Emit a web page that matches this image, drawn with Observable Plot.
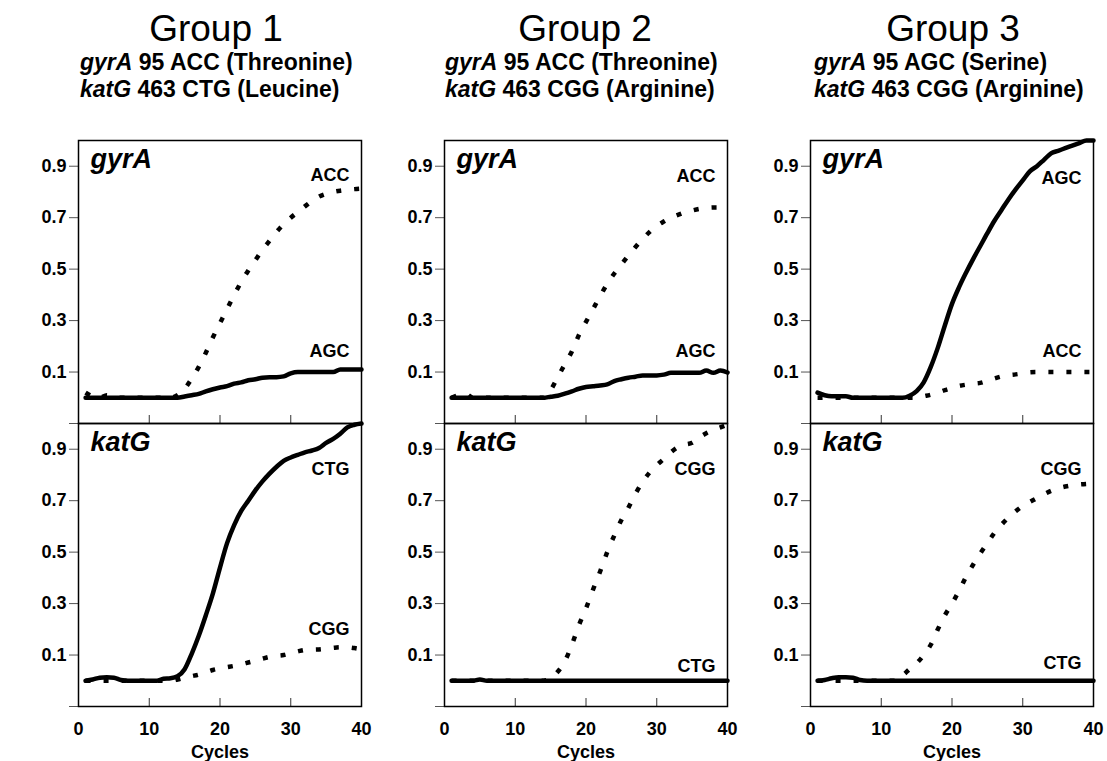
<!DOCTYPE html>
<html>
<head>
<meta charset="utf-8">
<script src="https://cdn.jsdelivr.net/npm/d3@7"></script>
<script src="https://cdn.jsdelivr.net/npm/@observablehq/plot@0.6"></script>
<style>
  html, body { margin: 0; padding: 0; background: white; }
  #wrap { position: relative; width: 1107px; height: 761px; overflow: hidden; font-family: "Liberation Sans", Arial, Helvetica, sans-serif; color: black; }
  .title { position: absolute; top: 10px; width: 300px; text-align: center; font-size: 37px; line-height: 37px; font-weight: normal; }
  .sub { position: absolute; font-size: 23px; line-height: 23px; font-weight: bold; white-space: nowrap; }
  .sub i { font-style: italic; }
  #ylab { position: absolute; left: 17px; top: 428px; transform: translate(-50%, -50%) rotate(-90deg); font-size: 19px; font-weight: bold; white-space: nowrap; }
  #chart { position: absolute; left: 0; top: 110px; }
</style>
</head>
<body>
<div id="wrap">
  <div id="titles"></div>
  <div id="ylab">Fluorescence</div>
  <div id="chart"></div>
</div>
<script>
// ---- Data ----
const groups = ["Group 1", "Group 2", "Group 3"];
const genes = ["gyrA", "katG"];
const subtitleGyrA = ["95 ACC (Threonine)", "95 ACC (Threonine)", "95 AGC (Serine)"];
const subtitleKatG = ["463 CTG (Leucine)", "463 CGG (Arginine)", "463 CGG (Arginine)"];
const cycles = [1,2,3,4,5,6,7,8,9,10,11,12,13,14,15,16,17,18,19,20,21,22,23,24,25,26,27,28,29,30,31,32,33,34,35,36,37,38,39,40];
const yTicks = [-0.1, 0.1, 0.3, 0.5, 0.7, 0.9];
const xTicks = [0, 10, 20, 30, 40];

// Group 1
const g1GyrA_ACC = [0.02,0.005,0,0.01,0,0,0,0,0,0,0,0,0,0.01,0.035,0.074,0.12,0.175,0.235,0.29,0.345,0.40,0.45,0.495,0.535,0.575,0.61,0.645,0.675,0.70,0.722,0.744,0.765,0.782,0.793,0.80,0.805,0.808,0.811,0.813];
const g1GyrA_AGC = [0,0,0,0,0,0,0,0,0,0,0,0,0,0,0.005,0.01,0.015,0.025,0.033,0.04,0.045,0.055,0.06,0.068,0.072,0.078,0.08,0.08,0.083,0.095,0.1,0.1,0.1,0.1,0.1,0.1,0.11,0.11,0.11,0.11];
const g1KatG_CTG = [0,0.005,0.012,0.014,0.012,0.003,0,0,0,0,0,0.008,0.01,0.018,0.045,0.105,0.175,0.255,0.34,0.44,0.535,0.605,0.66,0.70,0.74,0.775,0.805,0.832,0.855,0.868,0.878,0.888,0.895,0.905,0.925,0.94,0.96,0.985,0.995,1.0];
const g1KatG_CGG = [0,0,0,0,0,0,0,0,0,0,0,0,0,0.005,0.012,0.018,0.024,0.033,0.042,0.048,0.053,0.058,0.064,0.071,0.078,0.086,0.093,0.097,0.1,0.107,0.114,0.12,0.121,0.122,0.125,0.128,0.13,0.13,0.127,0.122];
// Group 2
const g2GyrA_ACC = [0,0.01,0.015,0,0.005,0,0,0,0,0,0,0,0,0,0.03,0.08,0.13,0.18,0.244,0.295,0.345,0.395,0.443,0.483,0.518,0.553,0.586,0.617,0.645,0.668,0.685,0.70,0.711,0.721,0.728,0.734,0.738,0.74,0.74,0.742];
const g2GyrA_AGC = [0,0,0,0,0,0,0,0,0,0,0,0,0,0,0.004,0.008,0.016,0.025,0.035,0.042,0.045,0.048,0.052,0.065,0.072,0.078,0.082,0.087,0.087,0.087,0.09,0.097,0.097,0.097,0.097,0.097,0.106,0.097,0.106,0.098];
const g2KatG_CGG = [0,0,0,0,0,0,0,0,0,0,0,0,0,0,0.01,0.035,0.075,0.14,0.216,0.281,0.355,0.425,0.5,0.565,0.625,0.673,0.727,0.773,0.81,0.838,0.862,0.888,0.908,0.918,0.925,0.945,0.962,0.975,0.985,0.995];
const g2KatG_CTG = [0,0,0,0,0.005,0,0,0,0,0,0,0,0,0,0,0,0,0,0,0,0,0,0,0,0,0,0,0,0,0,0,0,0,0,0,0,0,0,0,0];
// Group 3
const g3GyrA_AGC = [0.02,0.01,0.006,0.006,0.006,0,0,0,0,0,0,0,0,0.008,0.026,0.06,0.12,0.195,0.282,0.365,0.43,0.487,0.54,0.59,0.64,0.688,0.73,0.772,0.81,0.845,0.88,0.90,0.925,0.95,0.96,0.97,0.98,0.99,1.0,1.0];
const g3GyrA_ACC = [0,0,0,0,0,0,0,0,0,0,0,0,0,0,0,0.006,0.012,0.02,0.03,0.038,0.046,0.051,0.055,0.058,0.066,0.075,0.083,0.088,0.091,0.095,0.099,0.1,0.1,0.1,0.1,0.1,0.1,0.1,0.1,0.1];
const g3KatG_CGG = [0,0,0,0,0,0,0,0,0,0,0,0,0.02,0.045,0.068,0.1,0.14,0.2,0.255,0.3,0.35,0.405,0.452,0.495,0.535,0.575,0.607,0.635,0.659,0.68,0.695,0.71,0.725,0.738,0.748,0.755,0.76,0.763,0.765,0.766];
const g3KatG_CTG = [0,0.003,0.01,0.014,0.014,0.012,0.003,0,0,0,0,0,0,0,0,0,0,0,0,0,0,0,0,0,0,0,0,0,0,0,0,0,0,0,0,0,0,0,0,0];

// Curve labels
const labelGroups = ["Group 1","Group 1","Group 1","Group 1","Group 2","Group 2","Group 2","Group 2","Group 3","Group 3","Group 3","Group 3"];
const labelGenes  = ["gyrA","gyrA","katG","katG","gyrA","gyrA","katG","katG","gyrA","gyrA","katG","katG"];
const labelTexts  = ["ACC","AGC","CTG","CGG","ACC","AGC","CGG","CTG","AGC","ACC","CGG","CTG"];
const labelValues = [0.865,0.18,0.823,0.20,0.86,0.18,0.823,0.058,0.852,0.18,0.823,0.07];

// ---- Build tables ----
const series = [
  {group:"Group 1", gene:"gyrA", primer:"ACC", style:"dot",   values:g1GyrA_ACC},
  {group:"Group 1", gene:"gyrA", primer:"AGC", style:"solid", values:g1GyrA_AGC},
  {group:"Group 1", gene:"katG", primer:"CTG", style:"solid", values:g1KatG_CTG},
  {group:"Group 1", gene:"katG", primer:"CGG", style:"dot",   values:g1KatG_CGG},
  {group:"Group 2", gene:"gyrA", primer:"ACC", style:"dot",   values:g2GyrA_ACC},
  {group:"Group 2", gene:"gyrA", primer:"AGC", style:"solid", values:g2GyrA_AGC},
  {group:"Group 2", gene:"katG", primer:"CGG", style:"dot",   values:g2KatG_CGG},
  {group:"Group 2", gene:"katG", primer:"CTG", style:"solid", values:g2KatG_CTG},
  {group:"Group 3", gene:"gyrA", primer:"AGC", style:"solid", values:g3GyrA_AGC},
  {group:"Group 3", gene:"gyrA", primer:"ACC", style:"dot",   values:g3GyrA_ACC},
  {group:"Group 3", gene:"katG", primer:"CGG", style:"dot",   values:g3KatG_CGG},
  {group:"Group 3", gene:"katG", primer:"CTG", style:"solid", values:g3KatG_CTG}
];
const rows = series.flatMap(s => s.values.map((v, i) => ({
  group: s.group, gene: s.gene, primer: s.primer, style: s.style,
  key: s.group + "|" + s.gene + "|" + s.primer, cycle: cycles[i], value: v
})));
const labels = labelTexts.map((t, i) => ({group: labelGroups[i], gene: labelGenes[i], text: t, value: labelValues[i]}));
const panels = groups.flatMap(g => genes.map(k => ({group: g, gene: k})));
const bottomPanels = groups.map(g => ({group: g, gene: "katG"}));

// ---- Header (HTML) ----
const panelLeft = [77, 442, 811];
const panelCenter = [216, 585, 953];
const titles = document.getElementById("titles");
groups.forEach((g, i) => {
  const t = document.createElement("div");
  t.className = "title"; t.textContent = g;
  t.style.left = (panelCenter[i] - 150) + "px";
  titles.appendChild(t);
  const s1 = document.createElement("div");
  s1.className = "sub"; s1.style.left = (panelLeft[i] + 3) + "px"; s1.style.top = "51px";
  s1.innerHTML = "<i>gyrA</i> " + subtitleGyrA[i];
  titles.appendChild(s1);
  const s2 = document.createElement("div");
  s2.className = "sub"; s2.style.left = (panelLeft[i] + 3) + "px"; s2.style.top = "78px";
  s2.innerHTML = "<i>katG</i> " + subtitleKatG[i];
  titles.appendChild(s2);
});

// ---- Chart ----
const chart = Plot.plot({
  width: 1107,
  height: 651,
  marginTop: 30,
  marginBottom: 55,
  marginLeft: 77,
  marginRight: 14,
  style: {fontFamily: "'Liberation Sans', Arial, Helvetica, sans-serif", background: "white", color: "black", overflow: "visible"},
  x: {domain: [0, 40]},
  y: {domain: [-0.1, 1.0]},
  fx: {domain: groups, paddingInner: 0.2278, paddingOuter: 0, axis: null},
  fy: {domain: genes, paddingInner: 0, paddingOuter: 0, axis: null},
  marks: [
    Plot.axisY({ticks: yTicks, tickFormat: d => d < 0 ? "" : d3.format(".1f")(d), tickSize: 9, tickPadding: 3,
      facetAnchor: null, label: null, fontSize: 18, fontWeight: "bold", stroke: "#555"}),
    Plot.axisX({ticks: xTicks, tickSize: 0, tickPadding: 16, label: null, fontSize: 18, fontWeight: "bold"}),
    Plot.axisX({ticks: [10, 20, 30], tickSize: 8, dy: -8, text: null, label: null, facetAnchor: null, stroke: "#333"}),
    Plot.text(bottomPanels, {fx: "group", fy: "gene", text: () => "Cycles", frameAnchor: "bottom", dy: 51, fontSize: 18, fontWeight: "bold"}),
    Plot.line(rows, {filter: d => d.style === "solid", x: "cycle", y: "value", z: "key", fx: "group", fy: "gene",
      stroke: "black", strokeWidth: 4.5, curve: "monotone-x"}),
    Plot.line(rows, {filter: d => d.style === "dot", x: "cycle", y: "value", z: "key", fx: "group", fy: "gene",
      stroke: "black", strokeWidth: 4.5, strokeDasharray: "5,13", strokeLinecap: "butt", curve: "monotone-x"}),
    Plot.text(labels, {fx: "group", fy: "gene", x: () => 40, y: "value", text: "text", textAnchor: "end", dx: -12,
      fontSize: 18, fontWeight: "bold"}),
    Plot.text(panels, {fx: "group", fy: "gene", text: "gene", frameAnchor: "top-left", dx: 12, dy: 8,
      lineAnchor: "top", fontSize: 27, fontWeight: "bold", fontStyle: "italic"}),
    Plot.frame({stroke: "black", strokeWidth: 1.5})
  ]
});
document.getElementById("chart").appendChild(chart);
</script>
</body>
</html>
